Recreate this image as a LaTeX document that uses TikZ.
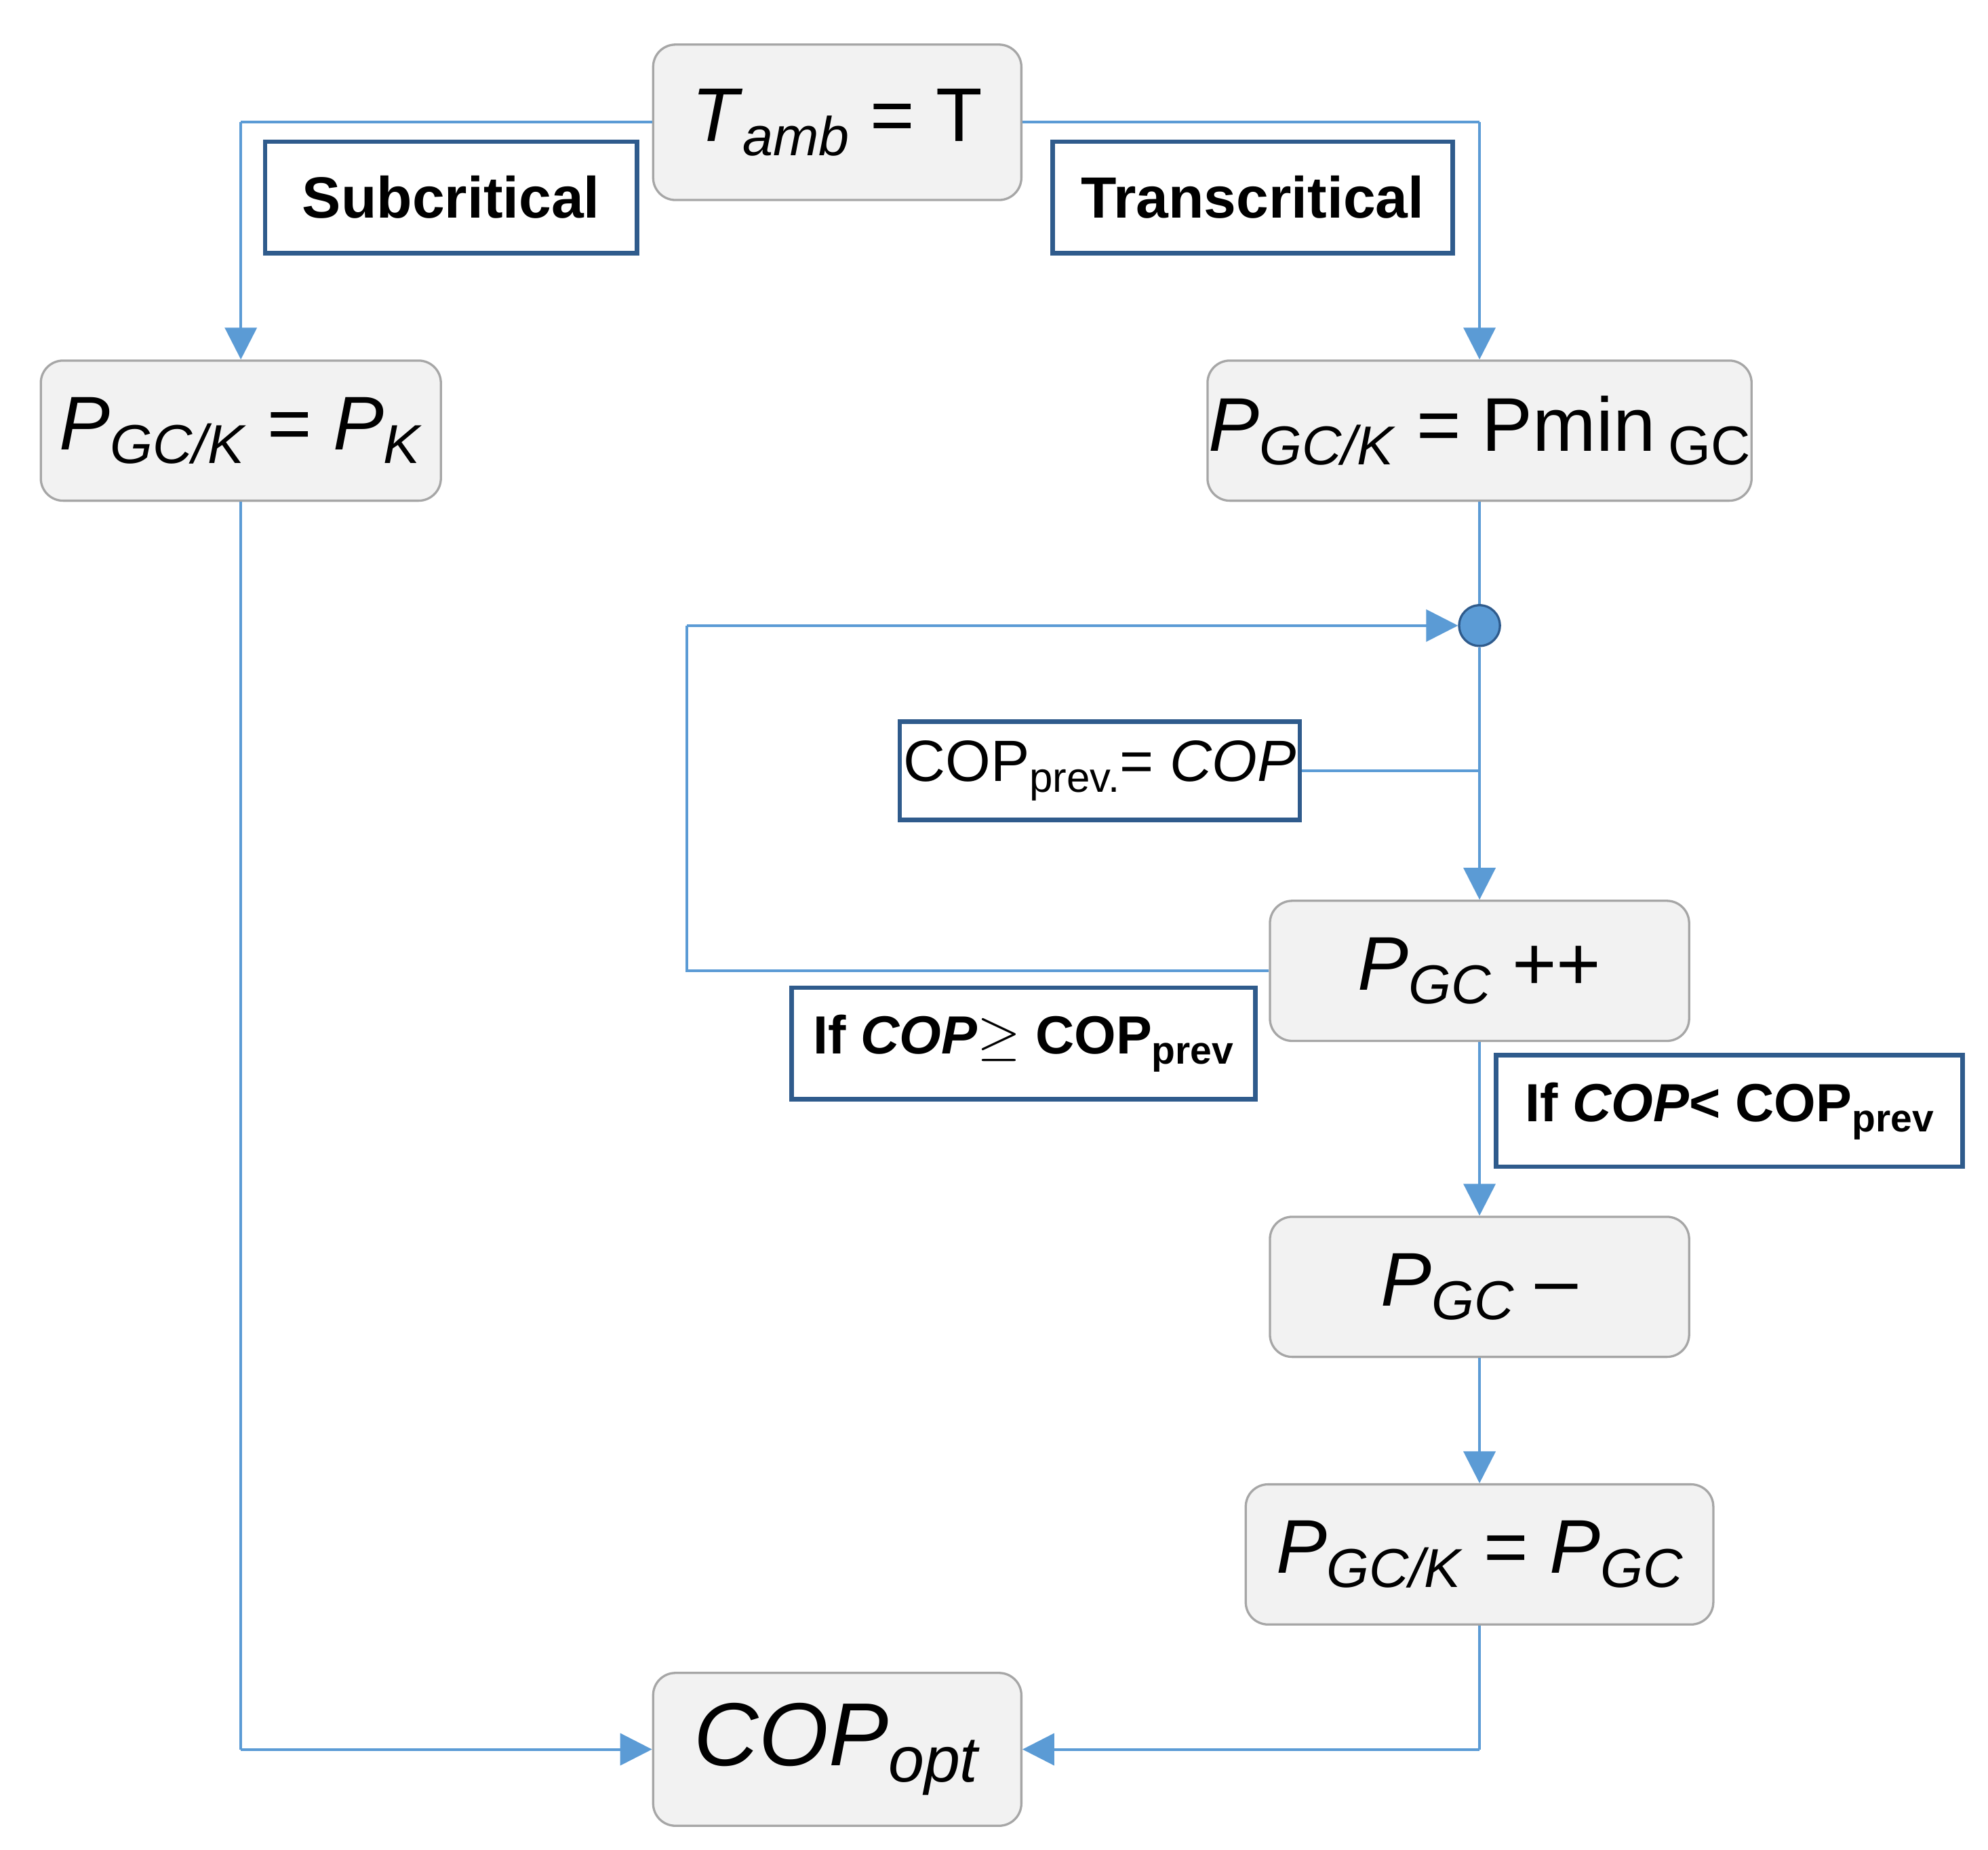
\documentclass[tikz,border=0pt]{standalone}
\usepackage{fontspec}
\setmainfont{Liberation Sans}
\usetikzlibrary{arrows.meta}
\definecolor{ln}{HTML}{5B9BD5}
\definecolor{bx}{HTML}{F2F2F2}
\definecolor{bd}{HTML}{A6A6A6}
\definecolor{lb}{HTML}{2F5B8C}
\newcommand{\mysub}[1]{\raisebox{-0.35ex}{\scalebox{0.72}{#1}}}
\begin{document}
\begin{tikzpicture}[x=0.02cm,y=-0.02cm,
  box/.style={draw=bd,line width=1pt,fill=bx,rounded corners=0.35cm,minimum height=2.2cm,inner sep=0pt,font=\fontsize{34}{40}\selectfont},
  lab/.style={draw=lb,line width=2pt,fill=white,inner sep=0pt,minimum height=1.75cm,font=\fontsize{26}{30}\selectfont},
  con/.style={ln,line width=1.2pt},
  arr/.style={con,-{Triangle[length=0.5cm,width=0.5cm]}}]
\useasboundingbox (0,0) rectangle (1560,1452);
\node[box,minimum width=5.78cm,minimum height=2.44cm] (tamb) at (657,96) {\textit{T}\mysub{\textit{amb}} = T};
\node[box,minimum width=6.28cm] (pk) at (189,338) {\textit{P}\mysub{\textit{GC/K}} = \textit{P}\mysub{\textit{K}}};
\node[box,minimum width=8.54cm] (pmin) at (1161,338) {\textit{P}\mysub{\textit{GC/K}} = Pmin\,\mysub{GC}};
\node[circle,fill=ln,draw=lb,line width=1pt,minimum size=0.64cm,inner sep=0pt] (dot) at (1161,491) {};
\node[box,minimum width=6.58cm] (pp) at (1161,762) {\textit{P}\mysub{\textit{GC}} ++};
\node[box,minimum width=6.58cm] (pm) at (1161,1010) {\textit{P}\mysub{\textit{GC}} --};
\node[box,minimum width=7.34cm] (pgck) at (1161,1220) {\textit{P}\mysub{\textit{GC/K}} = \textit{P}\mysub{\textit{GC}}};
\node[box,minimum width=5.78cm,minimum height=2.4cm,font=\fontsize{40}{46}\selectfont] (cop) at (657,1373) {\textit{COP}\mysub{\textit{opt}}};
\coordinate (cj) at (1161,605);
\draw[con] (tamb.west) -- (189,96) coordinate (a1);
\draw[arr] (a1) -- (pk.north);
\draw[con] (tamb.east) -- (1161,96) coordinate (a2);
\draw[arr] (a2) -- (pmin.north);
\draw[con] (pmin.south) -- (dot);
\draw[arr] (dot) -- (pp.north);
\draw[con] (pp.west) -- (539,762) coordinate (a3) -- (539,491) coordinate (a4);
\draw[arr] (a4) -- (dot.west);
\draw[arr] (pp.south) -- (pm.north);
\draw[arr] (pm.south) -- (pgck.north);
\draw[con] (pgck.south) -- (1161,1373) coordinate (a5);
\draw[arr] (a5) -- (cop.east);
\draw[con] (pk.south) -- (189,1373) coordinate (a6);
\draw[arr] (a6) -- (cop.west);
\node[lab,minimum width=5.84cm,font=\bfseries\fontsize{26}{30}\selectfont] (sub) at (354,155) {Subcritical};
\node[lab,minimum width=6.28cm,font=\bfseries\fontsize{26}{30}\selectfont] (tra) at (983,155) {Transcritical};
\node[lab,minimum width=6.28cm,minimum height=1.54cm] (cprev) at (863,605) {COP\mysub{prev.}= \textit{COP}};
\draw[con] (cprev.east) -- (cj);
\node[lab,minimum width=7.28cm,font=\bfseries\fontsize{24}{28}\selectfont] (ge) at (803,819) {If \textit{COP}$\geq$ COP\mysub{prev}};
\node[lab,minimum width=7.32cm,font=\bfseries\fontsize{24}{28}\selectfont] (lt) at (1357,872) {If \textit{COP}< COP\mysub{prev}};
\end{tikzpicture}
\end{document}
